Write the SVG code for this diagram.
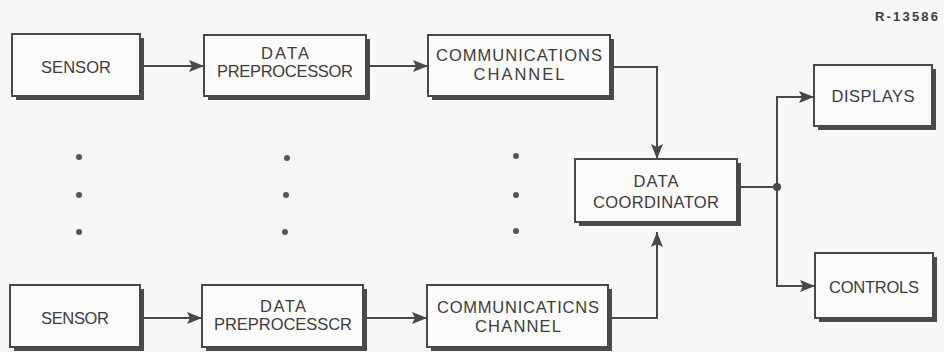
<svg xmlns="http://www.w3.org/2000/svg" width="944" height="352" viewBox="0 0 944 352">
<style>
.bg{fill:#f7f7f4}
.sh{fill:#4a4a4a}
.box{fill:#fbfbf9;stroke:#484848;stroke-width:2}
.t{font-family:"Liberation Sans",Arial,sans-serif;font-size:16.5px;fill:#3c3c3c;text-anchor:middle}
.c{fill:none;stroke:#484848;stroke-width:2}
.dot{fill:#555}
.ref{font-family:"Liberation Sans",Arial,sans-serif;font-size:13px;font-weight:bold;fill:#3c3c3c;text-anchor:end}
</style>
<defs>
<marker id="ah" markerUnits="userSpaceOnUse" markerWidth="16" markerHeight="12" refX="15" refY="6" orient="auto">
<path d="M0,0 L15,6 L0,12 L3,6 Z" fill="#484848"/>
</marker>
</defs>
<rect class="bg" x="0" y="0" width="944" height="352"/>
<text class="ref" x="938" y="21" textLength="63" lengthAdjust="spacing">R-13586</text>

<g id="sensor1">
<rect class="sh" x="16" y="38" width="128" height="62"/>
<rect class="box" x="12" y="34" width="128" height="62"/>
<text class="t" x="76" y="73" textLength="70" lengthAdjust="spacing">SENSOR</text>
</g>
<g id="preprocessor1">
<rect class="sh" x="208" y="39" width="162" height="61"/>
<rect class="box" x="204" y="35" width="162" height="61"/>
<text class="t" x="285" y="59" textLength="48" lengthAdjust="spacing">DATA</text>
<text class="t" x="285" y="77" textLength="136" lengthAdjust="spacing">PREPROCESSOR</text>
</g>
<g id="channel1">
<rect class="sh" x="432" y="39" width="182" height="61"/>
<rect class="box" x="428" y="35" width="182" height="61"/>
<text class="t" x="519" y="61" textLength="166" lengthAdjust="spacing">COMMUNICATIONS</text>
<text class="t" x="519" y="80" textLength="91" lengthAdjust="spacing">CHANNEL</text>
</g>
<g id="sensor2">
<rect class="sh" x="14" y="289" width="130" height="62"/>
<rect class="box" x="10" y="285" width="130" height="62"/>
<text class="t" x="75" y="324" textLength="68" lengthAdjust="spacing">SENSOR</text>
</g>
<g id="preprocessor2">
<rect class="sh" x="206" y="289" width="161" height="62"/>
<rect class="box" x="202" y="285" width="161" height="62"/>
<text class="t" x="283" y="312" textLength="46" lengthAdjust="spacing">DATA</text>
<text class="t" x="283" y="330" textLength="138" lengthAdjust="spacing">PREPROCESSCR</text>
</g>
<g id="channel2">
<rect class="sh" x="431" y="289" width="181" height="62"/>
<rect class="box" x="427" y="285" width="181" height="62"/>
<text class="t" x="518" y="313" textLength="162" lengthAdjust="spacing">COMMUNICATICNS</text>
<text class="t" x="518" y="332" textLength="86" lengthAdjust="spacing">CHANNEL</text>
</g>
<g id="coordinator">
<rect class="sh" x="579" y="163" width="162" height="63"/>
<rect class="box" x="575" y="159" width="162" height="63"/>
<text class="t" x="656" y="187" textLength="45" lengthAdjust="spacing">DATA</text>
<text class="t" x="656" y="208" textLength="126" lengthAdjust="spacing">COORDINATOR</text>
</g>
<g id="displays">
<rect class="sh" x="818" y="69" width="118" height="61"/>
<rect class="box" x="814" y="65" width="118" height="61"/>
<text class="t" x="873" y="102" textLength="83" lengthAdjust="spacing">DISPLAYS</text>
</g>
<g id="controls">
<rect class="sh" x="819" y="257" width="118" height="65"/>
<rect class="box" x="815" y="253" width="118" height="65"/>
<text class="t" x="874" y="293" textLength="90" lengthAdjust="spacing">CONTROLS</text>
</g>

<g id="ellipsis">
<circle class="dot" cx="79" cy="157" r="3"/>
<circle class="dot" cx="79" cy="195" r="3"/>
<circle class="dot" cx="79" cy="232" r="3"/>
<circle class="dot" cx="287" cy="158" r="3"/>
<circle class="dot" cx="286" cy="195" r="3"/>
<circle class="dot" cx="285" cy="232" r="3"/>
<circle class="dot" cx="516" cy="156" r="3"/>
<circle class="dot" cx="516" cy="195" r="3"/>
<circle class="dot" cx="516" cy="231" r="3"/>
</g>

<g id="connectors">
<path class="c" d="M144,66 H204" marker-end="url(#ah)"/>
<path class="c" d="M370,66 H428" marker-end="url(#ah)"/>
<path class="c" d="M144,318 H202" marker-end="url(#ah)"/>
<path class="c" d="M367,318 H427" marker-end="url(#ah)"/>
<path class="c" d="M614,67 H657 V159" marker-end="url(#ah)"/>
<path class="c" d="M612,318 H657 V232" marker-end="url(#ah)"/>
<path class="c" d="M741,187 H777"/>
<path class="c" d="M777,187 V97 H814" marker-end="url(#ah)"/>
<path class="c" d="M777,187 V286 H815" marker-end="url(#ah)"/>
<circle cx="777" cy="187" r="4" fill="#484848"/>
</g>
</svg>
